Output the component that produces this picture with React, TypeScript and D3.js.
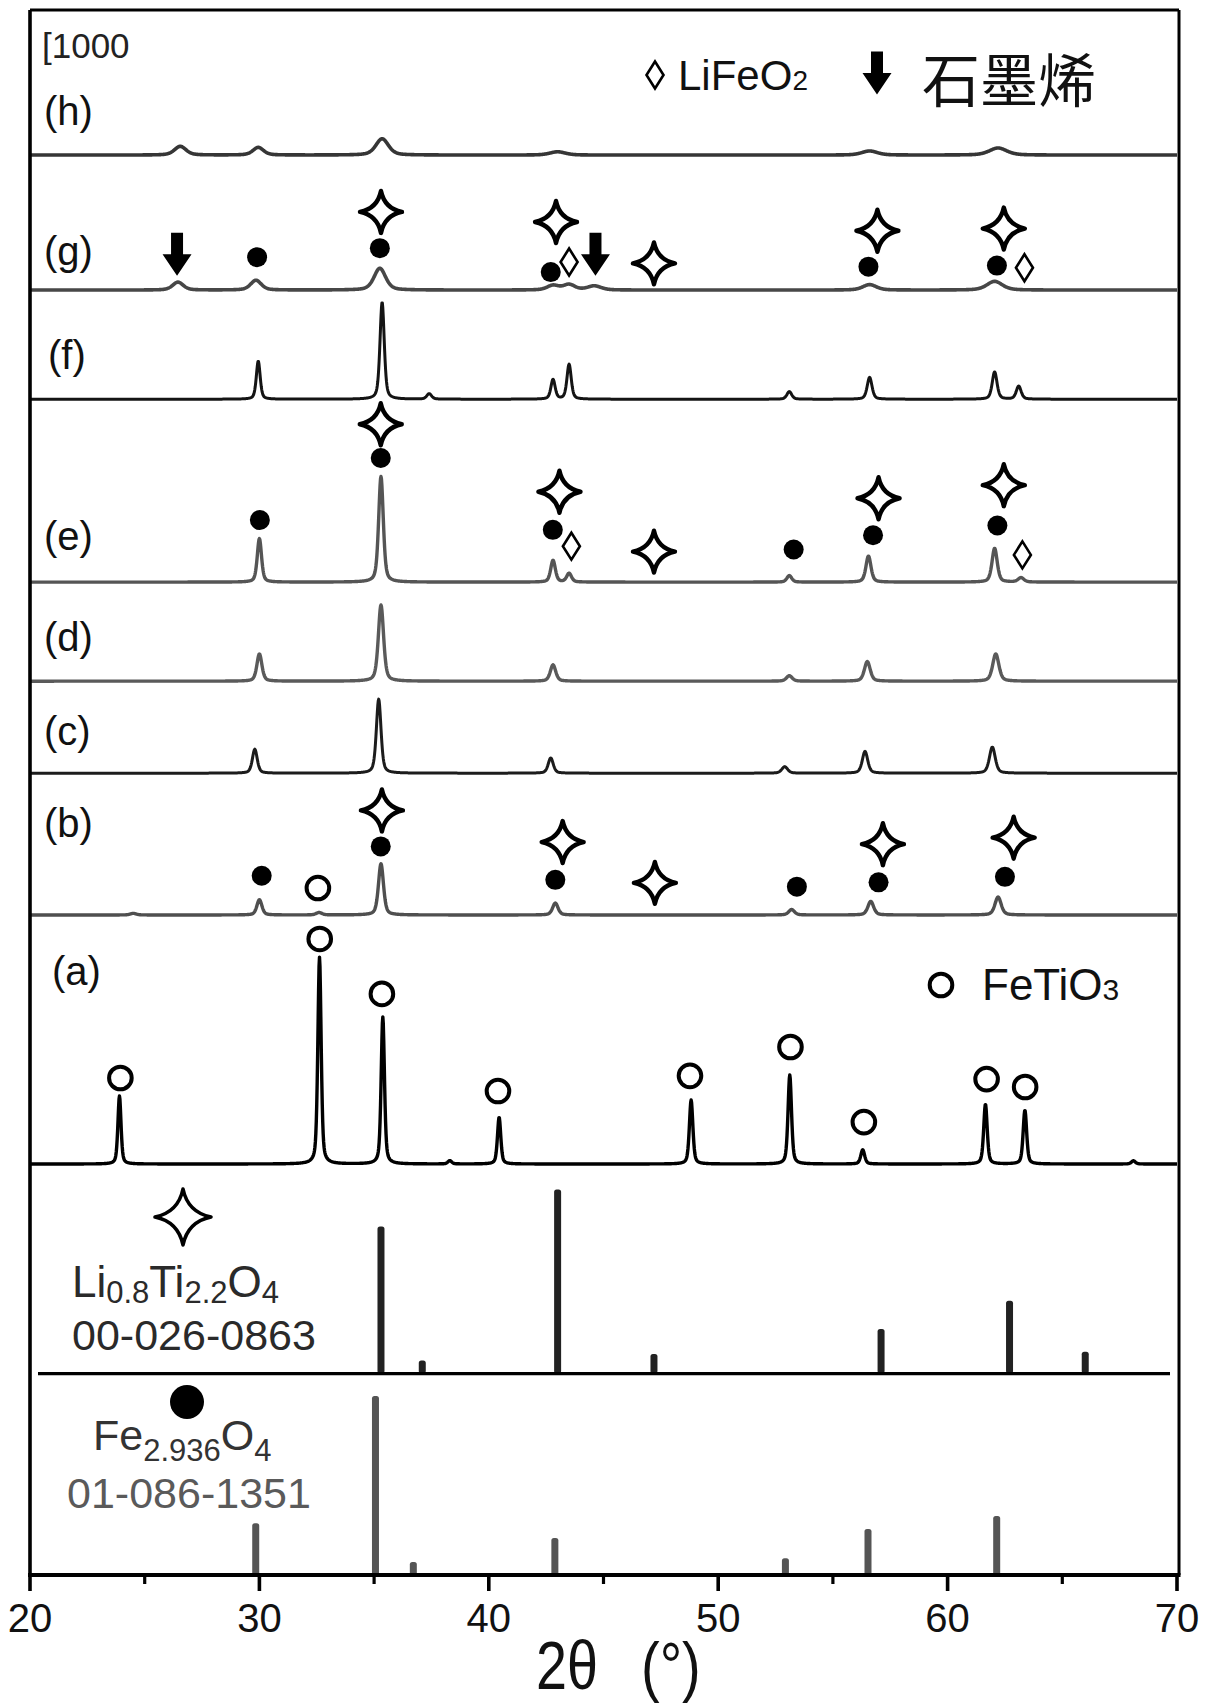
import React from "react";
import * as d3 from "d3";

// ---------- data (2θ in degrees, intensity in counts) ----------
const TWO_THETA_DOMAIN = [20, 70];
const MAJOR_TICKS = [20, 30, 40, 50, 60, 70];
const MINOR_TICKS = [25, 35, 45, 55, 65];

const traceNames = ["(a)", "(b)", "(c)", "(d)", "(e)", "(f)", "(g)", "(h)"];
const traceOffsets = [15100, 24250, 29460, 32840, 36480, 43200, 47210, 52170];

// peaks: [2θ, height, FWHM]
const peaksA = [[23.9, 2500, 0.16], [32.62, 7600, 0.17], [35.38, 5400, 0.17], [38.3, 120, 0.2], [40.45, 1720, 0.17], [48.82, 2350, 0.18], [53.12, 3270, 0.18], [56.3, 520, 0.2], [61.65, 2200, 0.18], [63.37, 1980, 0.18], [68.1, 120, 0.2]];
const peaksB = [[24.5, 60, 0.3], [30.0, 560, 0.26], [32.6, 90, 0.3], [35.3, 1880, 0.26], [42.9, 440, 0.28], [53.2, 200, 0.3], [56.65, 500, 0.3], [62.2, 660, 0.32]];
const peaksC = [[29.8, 880, 0.25], [35.2, 2720, 0.24], [42.7, 560, 0.26], [52.9, 240, 0.3], [56.4, 800, 0.28], [61.95, 960, 0.3]];
const peaksD = [[30.0, 1000, 0.26], [35.3, 2800, 0.27], [42.8, 600, 0.28], [53.1, 200, 0.3], [56.5, 720, 0.3], [62.1, 1000, 0.32]];
const peaksE = [[30.0, 1600, 0.22], [35.3, 3880, 0.24], [42.8, 800, 0.24], [43.5, 320, 0.25], [53.1, 240, 0.25], [56.55, 960, 0.26], [62.05, 1240, 0.27], [63.2, 160, 0.3]];
const peaksF = [[29.95, 1400, 0.2], [35.35, 3560, 0.22], [37.4, 200, 0.25], [42.8, 720, 0.22], [43.5, 1280, 0.22], [53.1, 280, 0.25], [56.6, 800, 0.25], [62.05, 1000, 0.25], [63.1, 480, 0.25]];
const peaksG = [[26.45, 290, 0.55], [29.85, 360, 0.55], [35.25, 800, 0.6], [42.8, 170, 0.6], [43.5, 200, 0.6], [44.6, 150, 0.7], [56.6, 200, 0.7], [62.05, 320, 0.8]];
const peaksH = [[26.55, 320, 0.6], [29.95, 280, 0.55], [35.35, 600, 0.65], [43.0, 120, 0.8], [56.6, 150, 0.8], [62.2, 260, 0.9]];
const tracePeaks = [peaksA, peaksB, peaksC, peaksD, peaksE, peaksF, peaksG, peaksH];

// reference patterns: [2θ, intensity]
const refLiOffset = 7400;
const refLiSticks = [[35.3, 5400], [37.1, 480], [43.0, 6760], [47.2, 720], [57.1, 1640], [62.7, 2680], [66.0, 800]];
const refFeOffset = 0;
const refFeSticks = [[29.84, 1900], [35.06, 6580], [36.71, 480], [42.88, 1360], [52.93, 620], [56.53, 1690], [62.14, 2170]];

// markers: [phase, 2θ, level above trace baseline]
const markersA = [["fetio3", 23.94, 3160], ["fetio3", 32.63, 8270], ["fetio3", 35.34, 6250], ["fetio3", 40.4, 2680], ["fetio3", 48.77, 3240], ["fetio3", 53.15, 4300], ["fetio3", 56.35, 1540], ["fetio3", 61.7, 3120], ["fetio3", 63.38, 2830]];
const markersB = [["fetio3", 32.55, 990], ["fe", 30.1, 1440], ["fe", 35.29, 2520], ["fe", 42.9, 1290], ["fe", 53.43, 1040], ["fe", 56.99, 1200], ["fe", 62.5, 1400], ["li", 35.34, 3840], ["li", 43.22, 2680], ["li", 47.24, 1180], ["li", 57.18, 2600], ["li", 62.88, 2840]];
const markersE = [["fe", 30.02, 2280], ["fe", 35.29, 4560], ["fe", 42.79, 1920], ["fe", 53.29, 1200], ["fe", 56.75, 1720], ["fe", 62.17, 2080], ["li", 35.29, 5800], ["li", 43.08, 3320], ["li", 47.2, 1120], ["li", 56.99, 3080], ["li", 62.45, 3560], ["lifeo2", 43.6, 1320], ["lifeo2", 63.26, 1000]];
const markersG = [["graphene", 26.41, 1320], ["graphene", 44.65, 1320], ["fe", 29.9, 1210], ["fe", 35.25, 1540], ["fe", 42.7, 660], ["fe", 56.55, 860], ["fe", 62.15, 900], ["li", 35.3, 2870], ["li", 42.93, 2500], ["li", 47.2, 980], ["li", 56.94, 2180], ["li", 62.45, 2260], ["lifeo2", 43.5, 1030], ["lifeo2", 63.35, 820]];
const markerSets = [[0, markersA], [1, markersB], [4, markersE], [6, markersG]];

// ---------- styles ----------
const traceColors = ["#000", "#4f4f4f", "#1c1c1c", "#5a5a5a", "#555", "#141414", "#474747", "#363636"];
const traceWidths = [3.4, 3.4, 3, 3.4, 3.4, 3, 3.6, 3.6];
const labelX = [52, 44, 44, 44, 44, 48, 44, 44];
const labelY = [985, 837, 745, 651, 550, 369, 265, 125];
const FONT = "'Liberation Sans', Arial, Helvetica, sans-serif";
const CJK = "'Noto Sans CJK SC', 'Noto Sans CJK JP', sans-serif";

const W = 1212, H = 1706;
const LEFT = 30, RIGHT = 1179, TOP = 10, BOTTOM = 1575;

const x = d3.scaleLinear().domain(TWO_THETA_DOMAIN).range([LEFT, 1177]);
const y = d3.scaleLinear().domain([0, 57500]).range([BOTTOM, TOP]);

function pv(peaks: number[][], t: number) {
  let s = 0;
  for (const [p, h, w] of peaks) {
    const u = (t - p) / (w / 2);
    const L = 1 / (1 + u * u);
    const G = Math.exp(-Math.LN2 * u * u);
    s += h * (0.45 * L + 0.55 * G);
  }
  return s;
}

const grid = d3.range(20, 70.0001, 0.02);

function starPath(r: number) {
  const k = r * 0.17;
  return `M0,${-r} Q${k},${-k} ${r},0 Q${k},${k} 0,${r} Q${-k},${k} ${-r},0 Q${-k},${-k} 0,${-r}Z`;
}
function arrowPath(w: number, h: number, sw: number) {
  return `M${-sw / 2},${-h / 2} L${sw / 2},${-h / 2} L${sw / 2},0 L${w / 2},0 L0,${h / 2} L${-w / 2},0 L${-sw / 2},0 Z`;
}
function diamondPath(w: number, h: number) {
  return `M0,${-h / 2} L${w / 2},0 L0,${h / 2} L${-w / 2},0 Z`;
}

function Marker({ phase, cx, cy, big }: { phase: string; cx: number; cy: number; big?: boolean }) {
  const tr = `translate(${cx},${cy})`;
  if (phase === "li") return <path transform={tr} d={starPath(big ? 28 : 21)} fill="#fff" stroke="#000" strokeWidth={big ? 3.6 : 4.4} strokeLinejoin="round" />;
  if (phase === "fe") return <circle cx={cx} cy={cy} r={big ? 17 : 10} fill="#000" />;
  if (phase === "fetio3") return <circle cx={cx} cy={cy} r={11.3} fill="#fff" stroke="#000" strokeWidth={4} />;
  if (phase === "lifeo2") return <path transform={tr} d={diamondPath(17, 27)} fill="#fff" stroke="#000" strokeWidth={2.6} />;
  if (phase === "graphene") return <path transform={tr} d={arrowPath(29, 43, 12)} fill="#000" />;
  return null;
}

export default function App() {
  const line = d3.line<number>().x((t) => x(t)).curve(d3.curveLinear);
  return (
    <svg width={W} height={H} style={{ position: "absolute", left: 0, top: 0, background: "#fff" }} xmlns="http://www.w3.org/2000/svg">
      <rect x={0} y={0} width={W} height={H} fill="#fff" />
      {/* traces */}
      {tracePeaks.map((pk, i) => (
        <path key={i} d={line.y((t) => y(traceOffsets[i] + pv(pk, t)))(grid) || ""} fill="none" stroke={traceColors[i]} strokeWidth={traceWidths[i]} strokeLinejoin="round" />
      ))}
      {/* reference sticks */}
      {refLiSticks.map(([t, v], i) => (
        <rect key={"li" + i} x={x(t) - 3.5} y={y(refLiOffset + v)} width={7} height={y(refLiOffset) - y(refLiOffset + v)} rx={2.5} fill="#222" />
      ))}
      <line x1={38} x2={1170} y1={y(refLiOffset)} y2={y(refLiOffset)} stroke="#000" strokeWidth={3.2} />
      {refFeSticks.map(([t, v], i) => (
        <rect key={"fe" + i} x={x(t) - 3.5} y={y(refFeOffset + v)} width={7} height={y(refFeOffset) - y(refFeOffset + v)} rx={2.5} fill="#555" />
      ))}
      {/* markers */}
      {markerSets.map(([ti, ms]: any) =>
        ms.map(([ph, t, lv]: any, j: number) => <Marker key={ti + "-" + j} phase={ph} cx={x(t)} cy={y(traceOffsets[ti] + lv)} />)
      )}
      {/* frame */}
      <line x1={LEFT} x2={LEFT} y1={TOP} y2={BOTTOM} stroke="#000" strokeWidth={3.6} />
      <line x1={LEFT} x2={RIGHT} y1={TOP} y2={TOP} stroke="#000" strokeWidth={3} />
      <line x1={RIGHT} x2={RIGHT} y1={TOP} y2={BOTTOM} stroke="#000" strokeWidth={3} />
      <line x1={LEFT - 2} x2={RIGHT + 1.5} y1={BOTTOM} y2={BOTTOM} stroke="#000" strokeWidth={4.2} />
      {MAJOR_TICKS.map((t) => (
        <g key={"M" + t}>
          <line x1={x(t)} x2={x(t)} y1={BOTTOM} y2={BOTTOM + 16} stroke="#000" strokeWidth={3.6} />
          <text x={x(t)} y={1632} textAnchor="middle" fontFamily={FONT} fontSize={40} fill="#111">{t}</text>
        </g>
      ))}
      {MINOR_TICKS.map((t) => (
        <line key={"m" + t} x1={x(t)} x2={x(t)} y1={BOTTOM} y2={BOTTOM + 9} stroke="#000" strokeWidth={3.2} />
      ))}
      {/* axis title */}
      <text transform="translate(536,1689) scale(0.82,1)" fontFamily={FONT} fontSize={68} fill="#111">2θ</text>
      <text transform="translate(641,1689) scale(0.85,1)" fontFamily={FONT} fontSize={66} fill="#111">(°)</text>
      {/* trace labels */}
      {traceNames.map((n, i) => (
        <text key={n} x={labelX[i]} y={labelY[i]} fontFamily={FONT} fontSize={40} fill="#111">{n}</text>
      ))}
      <text x={42} y={58} fontFamily={FONT} fontSize={35} fill="#222">[1000</text>
      {/* legend top */}
      <Marker phase="lifeo2" cx={655} cy={75} />
      <text x={678} y={90} fontFamily={FONT} fontSize={42} fill="#111">LiFeO<tspan fontSize={28}>2</tspan></text>
      <Marker phase="graphene" cx={877} cy={73} />
      <text x={922} y={102} fontFamily={CJK} fontSize={58} fill="#111">石墨烯</text>
      {/* FeTiO3 legend */}
      <Marker phase="fetio3" cx={941} cy={985} />
      <text x={982} y={1000} fontFamily={FONT} fontSize={44} fill="#111">FeTiO<tspan fontSize={30}>3</tspan></text>
      {/* reference labels */}
      <Marker phase="li" cx={183} cy={1217} big />
      <text x={72} y={1297} fontFamily={FONT} fontSize={44} fill="#2a2a2a">
        Li<tspan fontSize={31} dy={6}>0.8</tspan><tspan dy={-6}>Ti</tspan><tspan fontSize={31} dy={6}>2.2</tspan><tspan dy={-6}>O</tspan><tspan fontSize={31} dy={6}>4</tspan>
      </text>
      <text x={72} y={1350} fontFamily={FONT} fontSize={43} fill="#2a2a2a">00-026-0863</text>
      <Marker phase="fe" cx={187} cy={1402} big />
      <text x={93} y={1450} fontFamily={FONT} fontSize={43} fill="#333">
        Fe<tspan fontSize={31} dy={11}>2.936</tspan><tspan dy={-11}>O</tspan><tspan fontSize={31} dy={11}>4</tspan>
      </text>
      <text x={67} y={1508} fontFamily={FONT} fontSize={43} fill="#5a5a5a">01-086-1351</text>
    </svg>
  );
}
